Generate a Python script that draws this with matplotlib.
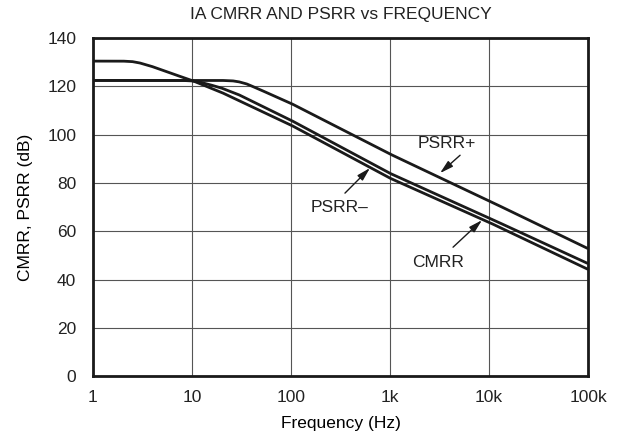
import numpy as np
import matplotlib
matplotlib.use("Agg")
import matplotlib.pyplot as plt

plt.rcParams['font.family'] = ['Liberation Sans', 'DejaVu Sans']
plt.rcParams['text.color'] = '#222222'

# values (frequency in Hz, level in dB)
cmrr_f = [1, 2, 2.5, 3, 4, 6, 10, 20, 100, 1e3, 1e4, 1e5]
cmrr_db = [130.5, 130.5, 130.3, 129.7, 128.2, 125.6, 122.5, 117.5, 104, 82, 63.7, 44.2]

psrrm_f = [1, 8, 10, 12, 15, 20, 30, 100, 1e3, 1e4, 1e5]
psrrm_db = [122.5, 122.5, 122.3, 121.8, 120.8, 119.3, 116.5, 106, 84, 65.5, 46.6]

psrrp_f = [1, 20, 26, 30, 36, 45, 100, 1e3, 1e4, 1e5]
psrrp_db = [122.5, 122.5, 122.3, 121.9, 121.0, 119.3, 113, 92, 72.6, 52.8]

xticks = [1, 10, 100, 1e3, 1e4, 1e5]
xlabels = ["1", "10", "100", "1k", "10k", "100k"]
yticks = np.arange(0, 141, 20)

fs = 12.5

fig = plt.figure(figsize=(6.23, 4.44), dpi=100)
ax = fig.add_axes([0.149, 0.153, 0.795, 0.761])

for f, db in [(cmrr_f, cmrr_db), (psrrm_f, psrrm_db), (psrrp_f, psrrp_db)]:
    # interpolate in log-frequency so the curves look smooth on the log axis
    lf = np.linspace(0, 5, 400)
    ax.plot(10 ** lf, np.interp(lf, np.log10(f), db), color="#1a1a1a", lw=2.0,
            solid_capstyle="butt")

ax.set_xscale("log")
ax.set_xlim(1, 1e5)
ax.set_ylim(0, 140)
ax.set_xticks(xticks)
ax.set_xticklabels(xlabels)
ax.set_yticks(yticks)
ax.minorticks_off()
ax.tick_params(length=0, labelsize=fs, pad=10, labelcolor="#222222")
ax.tick_params(axis="y", pad=12)
ax.grid(True, color="#555555", lw=0.8)
for s in ax.spines.values():
    s.set_linewidth(2)
    s.set_color("#1a1a1a")

ax.set_xlabel("Frequency (Hz)", fontsize=fs, labelpad=8)
ax.set_ylabel("CMRR, PSRR (dB)", fontsize=fs, labelpad=10)
ax.set_title("IA CMRR AND PSRR vs FREQUENCY", fontsize=fs, pad=14)

arrow = dict(arrowstyle="-|>,head_length=0.8,head_width=0.22", color="#1a1a1a",
             lw=1.0, shrinkA=0, shrinkB=0)
ax.annotate("", xy=(3200, 84.1), xytext=(5100, 91.5), arrowprops=arrow)
ax.text(3770, 96.5, "PSRR+", ha="center", va="center", fontsize=fs)
ax.annotate("", xy=(628, 86.2), xytext=(351, 75.8), arrowprops=arrow)
ax.text(313, 70, "PSRR\u2013", ha="center", va="center", fontsize=fs)
ax.annotate("", xy=(8490, 64.6), xytext=(4330, 53.4), arrowprops=arrow)
ax.text(3050, 47.2, "CMRR", ha="center", va="center", fontsize=fs)

fig.savefig("out.png", dpi=100)
